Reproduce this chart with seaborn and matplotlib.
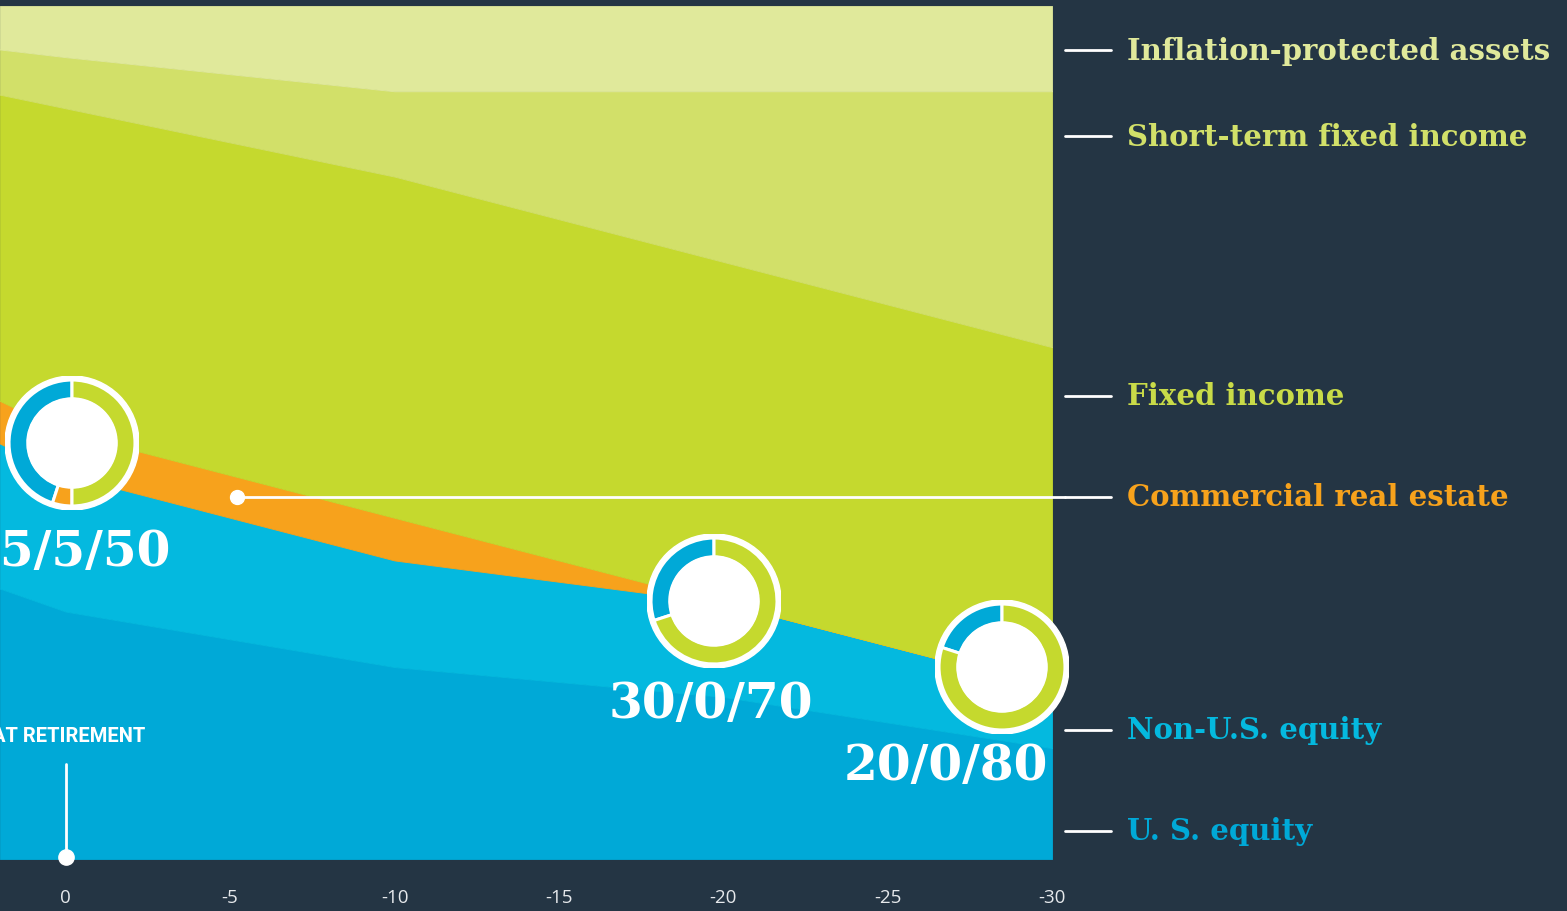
import matplotlib
matplotlib.use('Agg')
import matplotlib.pyplot as plt
from matplotlib.patches import Circle
import seaborn as sns

# glide path, % of portfolio by years relative to retirement
years = [2, 0, -10, -20, -30]
us_equity = [31.7, 29.0, 22.5, 19.0, 13.0]
non_us_equity = [17.0, 16.0, 12.5, 11.0, 7.0]
real_estate = [5.0, 5.0, 5.0, 0.0, 0.0]
fixed_income = [35.9, 38.0, 40.0, 40.0, 40.0]
short_term = [5.3, 6.0, 10.0, 20.0, 30.0]
inflation_protected = [5.1, 6.0, 10.0, 10.0, 10.0]

series_names = ['U. S. equity', 'Non-U.S. equity', 'Commercial real estate',
                'Fixed income', 'Short-term fixed income', 'Inflation-protected assets']
x_ticks = [0, -5, -10, -15, -20, -25, -30]

# equity / real estate / fixed income mixes shown in the donuts
mix_labels = ['45/5/50', '30/0/70', '20/0/80']
mixes = [[45, 5, 50], [30, 0, 70], [20, 0, 80]]

BG = '#243544'
area_colors = ['#00A9D7', '#04B9DF', '#F7A21C', '#C5D92E', '#D2E069', '#E0E99B']
label_colors = ['#00A9D8', '#04B9DF', '#F7A21C', '#C9DB48', '#D2E069', '#E0E99B']
donut_colors = ['#00A9D7', '#F7A21C', '#C5D92E']

sns.set_theme(style='dark', rc={'axes.facecolor': BG, 'figure.facecolor': BG})

W, H = 1567, 912
fig = plt.figure(figsize=(W / 100, H / 100), dpi=100)

# main stacked area
ax = fig.add_axes([0, 52 / H, 1052 / W, 853 / H])
polys = ax.stackplot(years, us_equity, non_us_equity, real_estate, fixed_income,
                     short_term, inflation_protected, colors=area_colors)
for p, c in zip(polys, area_colors):
    p.set_edgecolor(c)
    p.set_linewidth(0.6)
ax.set_xlim(2, -30)
ax.set_ylim(0, 100)
ax.set_xticks(x_ticks)
ax.set_xticklabels([str(t) for t in x_ticks], family='Open Sans', fontsize=13.5, color='#E6E9EC')
ax.set_yticks([])
ax.tick_params(axis='x', length=0, pad=21)
for s in ax.spines.values():
    s.set_visible(False)
ax.grid(False)

# overlay in pixel coordinates for callouts
ov = fig.add_axes([0, 0, 1, 1])
ov.set_xlim(0, W)
ov.set_ylim(H, 0)
ov.axis('off')

label_y = [832, 731, 498, 397, 137, 51]
for name, yy, col in zip(series_names, label_y, label_colors):
    ov.plot([1065, 1111], [yy, yy], color='white', lw=2)
    ov.text(1127, yy, name, color=col, fontsize=21, fontweight='bold',
            family='DejaVu Serif', va='center', ha='left')

# real estate pointer
ov.plot([237, 1065], [498, 498], color='white', lw=2)
ov.plot([237], [498], 'o', color='white', ms=10)

# retirement marker
ov.plot([66, 66], [765, 858], color='white', lw=2)
ov.plot([66], [858], 'o', color='white', ms=11)
ov.text(145, 737, 'AT RETIREMENT', color='white', fontsize=14.5, fontweight='bold',
        family='Roboto', ha='right', va='center')

# donuts
donut_pos = [(72, 444), (714, 602), (1002, 668)]
text_pos = [(170, 553, 'right'), (711, 705, 'center'), (1048, 767, 'right')]
r = 67
for (cx, cy), mix, lab, (tx, ty, ha) in zip(donut_pos, mixes, mix_labels, text_pos):
    dax = fig.add_axes([(cx - r) / W, 1 - (cy + r) / H, 2 * r / W, 2 * r / H])
    vals = [v for v in mix if v > 0]
    cols = [c for v, c in zip(mix, donut_colors) if v > 0]
    dax.pie(vals, colors=cols, radius=0.94, startangle=90, counterclock=True,
            wedgeprops=dict(width=0.28, edgecolor='white', linewidth=2.2))
    dax.add_patch(Circle((0, 0), 1.0, color='white', zorder=0))
    dax.add_patch(Circle((0, 0), 0.665, color='white', zorder=5))
    dax.set_xlim(-1, 1)
    dax.set_ylim(-1, 1)
    dax.set_aspect('equal')
    dax.axis('off')
    ov.text(tx, ty, lab, color='white', fontsize=35, fontweight='bold',
            family='DejaVu Serif', ha=ha, va='center')

fig.savefig('out.png', dpi=100, facecolor=BG)
